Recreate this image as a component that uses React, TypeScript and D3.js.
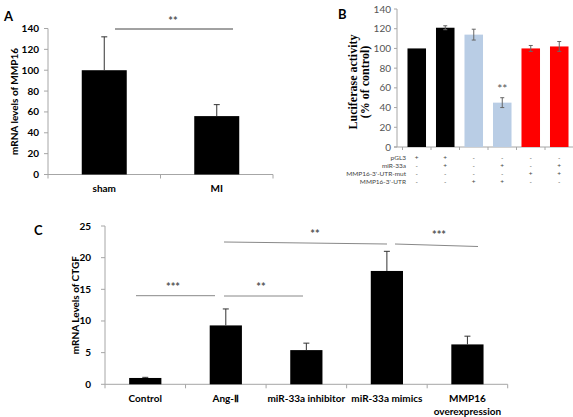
import React from "react";
import * as d3 from "d3";

// Panel A
const catsA = ["sham", "MI"];
const valsA = [100, 56];
const errA = [32, 11];
const ticksA = [0, 20, 40, 60, 80, 100, 120, 140];

// Panel B
const catsB = ["b1", "b2", "b3", "b4", "b5", "b6"];
const valsB = [100, 121, 114, 45, 100, 102];
const errB = [0, 2, 5.5, 5, 3, 5];
const colorsB = ["#000000", "#000000", "#b9cde5", "#b9cde5", "#ff0000", "#ff0000"];
const ticksB = [0, 20, 40, 60, 80, 100, 120, 140];
const rowLabelsB = ["pGL3", "miR-33a", "MMP16-3'-UTR-mut", "MMP16-3'-UTR"];
const rowSignsB = [
  ["+", "+", "-", "-", "-", "-"],
  ["-", "+", "-", "+", "-", "+"],
  ["-", "-", "-", "-", "+", "+"],
  ["-", "-", "+", "+", "-", "-"],
];

// Panel C
const catsC = ["Control", "Ang-Ⅱ", "miR-33a inhibitor", "miR-33a mimics", "MMP16\noverexpression"];
const valsC = [1.0, 9.3, 5.4, 17.9, 6.3];
const errC = [0.1, 2.6, 1.1, 3.1, 1.3];
const ticksC = [0, 5, 10, 15, 20, 25];

const F = "Lato, 'Liberation Sans', sans-serif";

export default function App() {
  // A
  const yA = d3.scaleLinear().domain([0, 140]).range([174.5, 28.5]);
  const xA = d3.scaleBand<string>().domain(catsA).range([48, 273]);
  const bwA = xA.bandwidth() * 0.4;
  // B
  const yB = d3.scaleLinear().domain([0, 140]).range([147, 9]);
  const xB = d3.scaleBand<string>().domain(catsB).range([402.5, 573.5]);
  const bwB = xB.bandwidth() * 0.65;
  const rowYB = [157.5, 165.5, 173.5, 181.5];
  // C
  const yC = d3.scaleLinear().domain([0, 25]).range([384.3, 226]);
  const xC = d3.scaleBand<string>().domain(catsC).range([105, 507.7]);
  const bwC = xC.bandwidth() * 0.4;

  const axisGray = "#a6a6a6";

  return (
    <svg width={573} height={417} style={{ position: "absolute", left: 0, top: 0, display: "block", background: "#fff" }}>
      {/* ---------- Panel A ---------- */}
      <g fontFamily={F}>
        <text x={4} y={21} fontSize={13} fontWeight="bold">A</text>
        <line x1={48} x2={48} y1={yA(140)} y2={yA(0)} stroke={axisGray} />
        <line x1={48} x2={273} y1={yA(0)} y2={yA(0)} stroke={axisGray} />
        {ticksA.map((t) => (
          <g key={t}>
            <line x1={44} x2={48} y1={yA(t)} y2={yA(t)} stroke={axisGray} />
            <text x={39} y={yA(t) + 3.5} textAnchor="end" fontSize={10} fontWeight="bold">{t}</text>
          </g>
        ))}
        {[...catsA.map((c) => xA(c)!), 273].map((x, i) => (
          <line key={i} x1={x} x2={x} y1={yA(0)} y2={yA(0) + 4} stroke={axisGray} />
        ))}
        {catsA.map((c, i) => {
          const cx = xA(c)! + xA.bandwidth() / 2;
          return (
            <g key={c}>
              <rect x={cx - bwA / 2} y={yA(valsA[i])} width={bwA} height={yA(0) - yA(valsA[i])} fill="#000" />
              <line x1={cx} x2={cx} y1={yA(valsA[i])} y2={yA(valsA[i] + errA[i])} stroke="#333" />
              <line x1={cx - 3} x2={cx + 3} y1={yA(valsA[i] + errA[i])} y2={yA(valsA[i] + errA[i])} stroke="#333" />
              <text x={cx} y={192} textAnchor="middle" fontSize={10} fontWeight="bold">{c}</text>
            </g>
          );
        })}
        <line x1={115} x2={233} y1={29} y2={29} stroke="#444" />
        <text x={173} y={25} textAnchor="middle" fontSize={11} fontWeight="bold" fill="#555">**</text>
        <text transform={`translate(18,${(yA(0) + yA(140)) / 2}) rotate(-90)`} textAnchor="middle" fontSize={10} fontWeight="bold">
          mRNA levels of MMP16
        </text>
      </g>

      {/* ---------- Panel B ---------- */}
      <g fontFamily={F}>
        <text x={338} y={19} fontSize={13} fontWeight="bold">B</text>
        <line x1={397} x2={397} y1={yB(140)} y2={yB(0)} stroke={axisGray} />
        <line x1={394} x2={573} y1={yB(0)} y2={yB(0)} stroke={axisGray} />
        {ticksB.map((t) => (
          <g key={t}>
            <line x1={394} x2={397} y1={yB(t)} y2={yB(t)} stroke={axisGray} />
            <text x={391} y={yB(t) + 3.5} textAnchor="end" fontSize={10} fill="#555">{t}</text>
          </g>
        ))}
        {catsB.map((c) => (
          <line key={c} x1={xB(c)!} x2={xB(c)!} y1={yB(0)} y2={yB(0) + 3} stroke={axisGray} />
        ))}
        {catsB.map((c, i) => {
          const cx = xB(c)! + xB.bandwidth() / 2;
          return (
            <g key={c}>
              <rect x={cx - bwB / 2} y={yB(valsB[i])} width={bwB} height={yB(0) - yB(valsB[i])} fill={colorsB[i]} />
              {errB[i] > 0 && (
                <g stroke="#666">
                  <line x1={cx} x2={cx} y1={yB(valsB[i] - errB[i])} y2={yB(valsB[i] + errB[i])} />
                  <line x1={cx - 2} x2={cx + 2} y1={yB(valsB[i] + errB[i])} y2={yB(valsB[i] + errB[i])} />
                  <line x1={cx - 2} x2={cx + 2} y1={yB(valsB[i] - errB[i])} y2={yB(valsB[i] - errB[i])} />
                </g>
              )}
              {rowSignsB.map((row, r) => (
                <text key={r} x={cx} y={rowYB[r] + 2.3} textAnchor="middle" fontSize={6.5} fill="#444">{row[i]}</text>
              ))}
            </g>
          );
        })}
        {rowLabelsB.map((l, r) => (
          <text key={l} x={406} y={rowYB[r] + 2.3} textAnchor="end" fontSize={6.5} fill="#444">{l}</text>
        ))}
        <text x={xB("b4")! + xB.bandwidth() / 2} y={yB(55)} textAnchor="middle" fontSize={12} fill="#555">**</text>
        <text transform={`translate(357,${(yB(0) + yB(140)) / 2 + 4}) rotate(-90)`} textAnchor="middle" fontSize={12} fontWeight="bold" fontFamily="'Liberation Serif', 'Times New Roman', serif">
          Luciferase activity
        </text>
        <text transform={`translate(369,${(yB(0) + yB(140)) / 2 + 4}) rotate(-90)`} textAnchor="middle" fontSize={12} fontWeight="bold" fontFamily="'Liberation Serif', 'Times New Roman', serif">
          (% of control)
        </text>
      </g>

      {/* ---------- Panel C ---------- */}
      <g fontFamily={F}>
        <text x={34} y={235} fontSize={13} fontWeight="bold">C</text>
        <line x1={105} x2={105} y1={yC(25)} y2={yC(0)} stroke={axisGray} />
        <line x1={105} x2={507.7} y1={yC(0)} y2={yC(0)} stroke={axisGray} />
        {ticksC.map((t) => (
          <g key={t}>
            <line x1={101} x2={105} y1={yC(t)} y2={yC(t)} stroke={axisGray} />
            <text x={91} y={yC(t) + 3.5} textAnchor="end" fontSize={10} fontWeight="bold">{t}</text>
          </g>
        ))}
        {[...catsC.map((c) => xC(c)!), 507.7].map((x, i) => (
          <line key={i} x1={x} x2={x} y1={yC(0)} y2={yC(0) + 4} stroke={axisGray} />
        ))}
        {catsC.map((c, i) => {
          const cx = xC(c)! + xC.bandwidth() / 2;
          const lines = c.split("\n");
          return (
            <g key={c}>
              <rect x={cx - bwC / 2} y={yC(valsC[i])} width={bwC} height={yC(0) - yC(valsC[i])} fill="#000" />
              <line x1={cx} x2={cx} y1={yC(valsC[i])} y2={yC(valsC[i] + errC[i])} stroke="#333" />
              <line x1={cx - 3} x2={cx + 3} y1={yC(valsC[i] + errC[i])} y2={yC(valsC[i] + errC[i])} stroke="#333" />
              {lines.map((l, k) => (
                <text key={k} x={cx} y={402 + k * 13} textAnchor="middle" fontSize={10} fontWeight="bold">{l}</text>
              ))}
            </g>
          );
        })}
        <g stroke="#888">
          <line x1={136} x2={215} y1={295.7} y2={295.7} />
          <line x1={224} x2={303} y1={296} y2={296} />
          <line x1={224} x2={387} y1={242} y2={244} />
          <line x1={395} x2={478} y1={244} y2={246.5} />
        </g>
        <g fontSize={11} fontWeight="bold" fill="#555" textAnchor="middle">
          <text x={173} y={291}>***</text>
          <text x={261} y={291}>**</text>
          <text x={315} y={238}>**</text>
          <text x={439} y={239}>***</text>
        </g>
        <text transform={`translate(79,${(yC(0) + yC(25)) / 2}) rotate(-90)`} textAnchor="middle" fontSize={10} fontWeight="bold">
          mRNA Levels of CTGF
        </text>
      </g>
    </svg>
  );
}
